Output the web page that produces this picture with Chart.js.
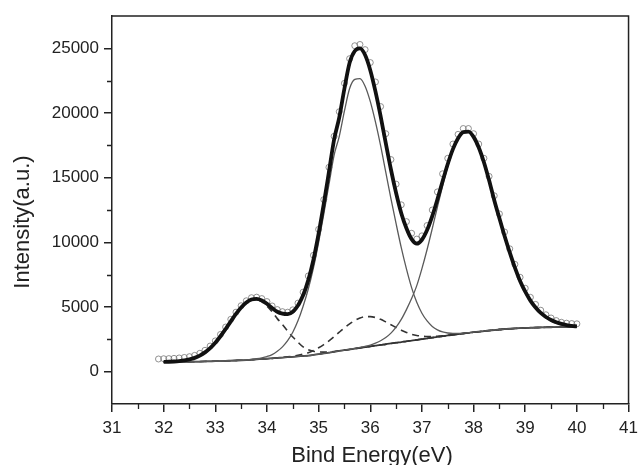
<!DOCTYPE html>
<html>
<head>
<meta charset="utf-8">
<script src="https://cdn.jsdelivr.net/npm/chart.js@4.4.0/dist/chart.umd.min.js"></script>
<style>
  html, body { margin: 0; padding: 0; background: #fff; }
  canvas { display: block; }
</style>
</head>
<body>
<canvas id="xps" width="644" height="465"></canvas>
<script>
// Binding energy grid of the fitted curves (eV)
const energy = [
  32, 32.1, 32.2, 32.3, 32.4, 32.5, 32.6, 32.7, 32.8, 32.9,
  33, 33.1, 33.2, 33.3, 33.4, 33.5, 33.6, 33.7, 33.8, 33.9,
  34, 34.1, 34.2, 34.3, 34.4, 34.5, 34.6, 34.7, 34.8, 34.9,
  35, 35.1, 35.2, 35.3, 35.4, 35.5, 35.6, 35.7, 35.8, 35.9,
  36, 36.1, 36.2, 36.3, 36.4, 36.5, 36.6, 36.7, 36.8, 36.9,
  37, 37.1, 37.2, 37.3, 37.4, 37.5, 37.6, 37.7, 37.8, 37.9,
  38, 38.1, 38.2, 38.3, 38.4, 38.5, 38.6, 38.7, 38.8, 38.9,
  39, 39.1, 39.2, 39.3, 39.4, 39.5, 39.6, 39.7, 39.8, 39.9,
  40
];

// Fit envelope (thick line)
const envelope = [
  757, 767, 785, 815, 864, 944, 1066, 1243, 1491, 1822,
  2239, 2739, 3301, 3891, 4464, 4965, 5351, 5580, 5630, 5509,
  5250, 4922, 4630, 4487, 4451, 4634, 5121, 5908, 7080, 8655,
  10673, 12973, 15447, 17950, 19667, 21894, 23881, 24794, 24998, 24485,
  23313, 21676, 19766, 17667, 15632, 13815, 12254, 11085, 10244, 9894,
  10198, 10945, 12023, 13327, 14718, 16058, 17207, 18053, 18524, 18559,
  18155, 17333, 16191, 14797, 13263, 11860, 10490, 9220, 8040, 7010,
  6180, 5495, 4960, 4540, 4230, 3995, 3820, 3690, 3600, 3540,
  3500
];

// Background
const background = [
  750, 752, 755, 758, 762, 768, 775, 782, 790, 800,
  810, 822, 835, 850, 865, 880, 900, 925, 950, 975,
  1000, 1030, 1060, 1090, 1120, 1150, 1180, 1210, 1240, 1290,
  1350, 1410, 1470, 1530, 1600, 1660, 1720, 1780, 1840, 1900,
  1950, 2010, 2070, 2120, 2180, 2240, 2290, 2350, 2400, 2460,
  2520, 2570, 2630, 2690, 2740, 2800, 2850, 2900, 2950, 3000,
  3050, 3090, 3140, 3180, 3220, 3260, 3290, 3320, 3340, 3360,
  3380, 3395, 3410, 3420, 3430, 3435, 3440, 3440, 3440, 3440,
  3440
];

// Component heights above background
const peak337 = [   // dashed, ~33.75 eV
  7, 15, 30, 57, 102, 176, 291, 461, 701, 1022,
  1429, 1917, 2466, 3041, 3599, 4078, 4436, 4626, 4626, 4436,
  4078, 3599, 3041, 2550, 2020, 1530, 1100, 701, 461, 291,
  176, 102, 57, 30, 15, 7, 0, 0, 0, 0,
  0, 0, 0, 0, 0, 0, 0, 0, 0, 0,
  0, 0, 0, 0, 0, 0, 0, 0, 0, 0,
  0, 0, 0, 0, 0, 0, 0, 0, 0, 0,
  0, 0, 0, 0, 0, 0, 0, 0, 0, 0,
  0
];
const peak357 = [   // solid, ~35.75 eV
  0, 0, 0, 0, 0, 0, 0, 0, 0, 0,
  0, 0, 0, 0, 0, 7, 15, 29, 54, 98,
  172, 293, 520, 830, 1280, 1900, 2750, 3850, 5150, 6732,
  8653, 10776, 13006, 15215, 16600, 18500, 20175, 20818, 20818, 20175,
  18948, 17300, 15400, 13300, 11200, 9200, 7300, 5600, 4100, 2900,
  2000, 1350, 870, 540, 330, 190, 105, 55, 30, 15,
  7, 0, 0, 0, 0, 0, 0, 0, 0, 0,
  0, 0, 0, 0, 0, 0, 0, 0, 0, 0,
  0
];
const peak359 = [   // dashed, ~35.9 eV
  0, 0, 0, 0, 0, 0, 0, 0, 0, 0,
  0, 0, 0, 0, 0, 0, 0, 0, 0, 0,
  0, 0, 9, 17, 31, 54, 91, 147, 229, 342,
  494, 685, 914, 1175, 1452, 1727, 1976, 2176, 2305, 2350,
  2305, 2176, 1976, 1727, 1452, 1175, 914, 685, 494, 342,
  229, 147, 91, 54, 31, 17, 9, 0, 0, 0,
  0, 0, 0, 0, 0, 0, 0, 0, 0, 0,
  0, 0, 0, 0, 0, 0, 0, 0, 0, 0,
  0
];
const peak378 = [   // solid, ~37.85 eV
  0, 0, 0, 0, 0, 0, 0, 0, 0, 0,
  0, 0, 0, 0, 0, 0, 0, 0, 0, 0,
  0, 0, 0, 0, 0, 0, 0, 0, 0, 0,
  0, 0, 0, 0, 0, 0, 10, 20, 35, 60,
  110, 190, 320, 520, 800, 1200, 1750, 2450, 3250, 4192,
  5449, 6878, 8432, 10043, 11617, 13051, 14243, 15098, 15544, 15544,
  15098, 14243, 13051, 11617, 10043, 8600, 7200, 5900, 4700, 3650,
  2800, 2100, 1550, 1120, 800, 560, 380, 250, 160, 100,
  60
];

// Measured points (open circles)
const measuredEnergy = [
  31.9, 32, 32.1, 32.2, 32.3, 32.4, 32.5, 32.6, 32.7, 32.8, 32.9,
  33, 33.1, 33.2, 33.3, 33.4, 33.5, 33.6, 33.7, 33.8, 33.9,
  34, 34.1, 34.2, 34.3, 34.4, 34.5, 34.6, 34.7, 34.8, 34.9,
  35, 35.1, 35.2, 35.3, 35.4, 35.5, 35.6, 35.7, 35.8, 35.9,
  36, 36.1, 36.2, 36.3, 36.4, 36.5, 36.6, 36.7, 36.8, 36.9,
  37, 37.1, 37.2, 37.3, 37.4, 37.5, 37.6, 37.7, 37.8, 37.9,
  38, 38.1, 38.2, 38.3, 38.4, 38.5, 38.6, 38.7, 38.8, 38.9,
  39, 39.1, 39.2, 39.3, 39.4, 39.5, 39.6, 39.7, 39.8, 39.9,
  40
];
const measured = [
  980, 1000, 1010, 1030, 1060, 1100, 1160, 1260, 1420, 1650, 1980,
  2380, 2880, 3450, 4050, 4600, 5100, 5480, 5720, 5760, 5650,
  5420, 5080, 4800, 4640, 4600, 4780, 5300, 6150, 7400, 9000,
  11000, 13300, 15800, 18200, 20100, 22300, 24200, 25200, 25300, 24900,
  23900, 22400, 20500, 18400, 16400, 14500, 12900, 11600, 10700, 10250,
  10500, 11300, 12500, 13900, 15300, 16500, 17600, 18350, 18800, 18800,
  18400, 17600, 16500, 15100, 13600, 12200, 10800, 9500, 8300, 7300,
  6450, 5750, 5200, 4750, 4400, 4150, 3950, 3820, 3750, 3720,
  3700
];

// Axis ticks
const xTicks = [31, 32, 33, 34, 35, 36, 37, 38, 39, 40, 41];
const xMinorTicks = [31.5, 32.5, 33.5, 34.5, 35.5, 36.5, 37.5, 38.5, 39.5, 40.5];
const yTicks = [0, 5000, 10000, 15000, 20000, 25000];
const yMinorTicks = [2500, 7500, 12500, 17500, 22500];

const FONT = '"Liberation Sans", Arial, Helvetica, sans-serif';
const INK = '#222';

// Build point lists
const toPoints = (xs, ys) => xs.map((x, i) => ({ x: x, y: ys[i] }));
const onBackground = comp => energy.map((x, i) => ({ x: x, y: comp[i] + background[i] }));

// Frame, minor ticks and axis titles
const frameAndTitles = {
  id: 'frameAndTitles',
  afterDraw(chart) {
    const { ctx, chartArea: a, scales } = chart;
    ctx.save();
    ctx.strokeStyle = INK;
    ctx.lineWidth = 1.5;
    ctx.beginPath();
    ctx.moveTo(a.left, a.top);
    ctx.lineTo(a.right, a.top);
    ctx.lineTo(a.right, a.bottom);
    ctx.stroke();

    ctx.lineWidth = 1.3;
    ctx.beginPath();
    xMinorTicks.forEach(v => {
      const px = Math.round(scales.x.getPixelForValue(v)) + 0.5;
      ctx.moveTo(px, a.bottom);
      ctx.lineTo(px, a.bottom + 5);
    });
    yMinorTicks.forEach(v => {
      const py = Math.round(scales.y.getPixelForValue(v)) + 0.5;
      ctx.moveTo(a.left, py);
      ctx.lineTo(a.left - 5, py);
    });
    ctx.stroke();

    ctx.fillStyle = INK;
    ctx.font = '22px ' + FONT;
    ctx.textAlign = 'center';
    ctx.textBaseline = 'alphabetic';
    ctx.fillText('Bind Energy(eV)', 372, 462);
    ctx.translate(29, 222);
    ctx.rotate(-Math.PI / 2);
    ctx.fillText('Intensity(a.u.)', 0, 0);
    ctx.restore();
  }
};

new Chart(document.getElementById('xps'), {
  type: 'line',
  data: {
    datasets: [
      {
        label: 'Fit',
        data: toPoints(energy, envelope),
        borderColor: '#111',
        borderWidth: 3.8,
        pointRadius: 0,
        cubicInterpolationMode: 'monotone'
      },
      {
        label: 'Peak 35.75',
        data: onBackground(peak357),
        borderColor: '#5a5a5a',
        borderWidth: 1.3,
        pointRadius: 0,
        cubicInterpolationMode: 'monotone'
      },
      {
        label: 'Peak 37.85',
        data: onBackground(peak378),
        borderColor: '#5a5a5a',
        borderWidth: 1.3,
        pointRadius: 0,
        cubicInterpolationMode: 'monotone'
      },
      {
        label: 'Peak 33.75',
        data: onBackground(peak337),
        borderColor: '#333',
        borderWidth: 1.6,
        borderDash: [7, 5],
        pointRadius: 0,
        cubicInterpolationMode: 'monotone'
      },
      {
        label: 'Peak 35.9',
        data: onBackground(peak359),
        borderColor: '#333',
        borderWidth: 1.6,
        borderDash: [7, 5],
        pointRadius: 0,
        cubicInterpolationMode: 'monotone'
      },
      {
        label: 'Background',
        data: toPoints(energy, background),
        borderColor: '#333',
        borderWidth: 1.8,
        pointRadius: 0,
        cubicInterpolationMode: 'monotone'
      },
      {
        label: 'Measured',
        data: toPoints(measuredEnergy, measured),
        showLine: false,
        pointRadius: 3,
        pointBorderWidth: 1,
        pointBorderColor: 'rgba(110,110,110,0.75)',
        pointBackgroundColor: 'rgba(255,255,255,0)'
      }
    ]
  },
  options: {
    responsive: false,
    animation: false,
    events: [],
    layout: {
      autoPadding: false,
      padding: { left: 0, right: 8, top: 16, bottom: 0 }
    },
    plugins: {
      legend: { display: false },
      tooltip: { enabled: false }
    },
    scales: {
      x: {
        type: 'linear',
        min: 31,
        max: 41,
        afterFit: scale => { scale.height = 61; },
        afterBuildTicks: scale => { scale.ticks = xTicks.map(v => ({ value: v })); },
        border: { color: INK, width: 1.5 },
        grid: { drawOnChartArea: false, drawTicks: true, tickLength: 8, color: INK, lineWidth: 1.5 },
        ticks: {
          color: INK,
          padding: 6,
          maxRotation: 0,
          autoSkip: false,
          font: { family: FONT, size: 17 },
          callback: v => String(v)
        }
      },
      y: {
        type: 'linear',
        min: -2500,
        max: 27500,
        afterFit: scale => { scale.width = 112; },
        afterBuildTicks: scale => { scale.ticks = yTicks.map(v => ({ value: v })); },
        border: { color: INK, width: 1.5 },
        grid: { drawOnChartArea: false, drawTicks: true, tickLength: 8, color: INK, lineWidth: 1.5 },
        ticks: {
          color: INK,
          padding: 5,
          autoSkip: false,
          font: { family: FONT, size: 17 },
          callback: v => String(v)
        }
      }
    }
  },
  plugins: [frameAndTitles]
});
</script>
</body>
</html>
